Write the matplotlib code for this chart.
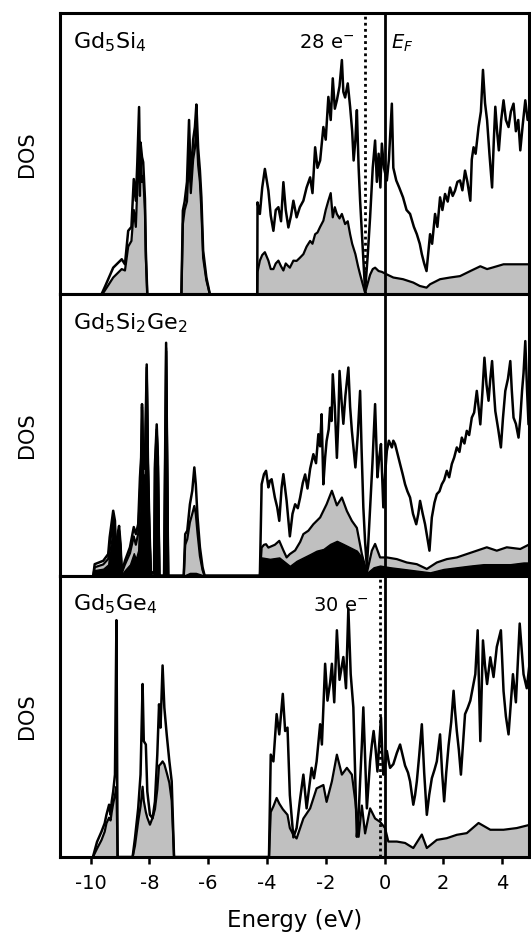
#!/usr/bin/env python3
"""
Stacked DOS panels for Gd5Si4, Gd5Si2Ge2 and Gd5Ge4
Values are (energy in eV, DOS in % of panel height), read off the figure
"""

import numpy as np
import matplotlib
matplotlib.use('Agg')
import matplotlib.pyplot as plt

# ---------------- Gd5Si4 ----------------
si4_total = [
    (-9.63, 0), (-9.50, 3), (-9.23, 9.5), (-8.94, 12.5), (-8.83, 10.7), (-8.72, 22.6), (-8.61, 24),
    (-8.53, 41), (-8.46, 33.3), (-8.41, 46.8), (-8.35, 66.6), (-8.32, 44), (-8.30, 54), (-8.25, 48.8),
    (-8.21, 47), (-8.15, 34), (-8.12, 15.5), (-8.07, 0),
    (-6.91, 0), (-6.86, 29.8), (-6.80, 33), (-6.72, 40), (-6.65, 62), (-6.59, 40), (-6.51, 55),
    (-6.45, 59.5), (-6.40, 67.5), (-6.34, 52), (-6.28, 44), (-6.23, 34.5), (-6.17, 15.5), (-6.06, 6),
    (-5.94, 0),
    (-4.33, 0), (-4.32, 32.7), (-4.24, 28.6), (-4.16, 38), (-4.07, 44.6), (-3.95, 36.9), (-3.87, 28),
    (-3.78, 22.6), (-3.70, 30), (-3.61, 31), (-3.52, 26), (-3.44, 39.9), (-3.36, 30), (-3.27, 23.8),
    (-3.18, 28), (-3.10, 33.3), (-2.99, 27.4), (-2.88, 31), (-2.76, 33.3), (-2.65, 38), (-2.53, 41.6),
    (-2.45, 36), (-2.36, 52.3), (-2.28, 45), (-2.19, 47.6), (-2.08, 59.5), (-2.00, 55), (-1.91, 70.2),
    (-1.83, 62), (-1.76, 76.8), (-1.69, 66), (-1.62, 69), (-1.53, 74), (-1.45, 83.3), (-1.40, 72),
    (-1.34, 70), (-1.25, 75), (-1.17, 66.7), (-1.10, 58), (-1.05, 47.6), (-0.99, 55), (-0.94, 65.5),
    (-0.88, 45), (-0.83, 33.3), (-0.75, 18), (-0.66, 1.1), (-0.57, 14), (-0.49, 27.4), (-0.40, 45),
    (-0.32, 54.7), (-0.26, 40), (-0.20, 50), (-0.14, 38), (-0.09, 53.6), (-0.02, 45), (0.08, 40.5),
    (0.15, 48), (0.22, 62), (0.25, 67.8), (0.30, 45), (0.40, 40.5), (0.50, 38), (0.63, 34.5),
    (0.75, 30), (0.87, 28.6), (1.00, 24), (1.10, 21.4), (1.20, 18), (1.27, 14.3), (1.35, 11),
    (1.43, 8.3), (1.50, 16), (1.55, 21.4), (1.62, 18), (1.72, 28.6), (1.80, 24), (1.89, 34.5),
    (1.97, 30), (2.06, 35.7), (2.15, 33), (2.23, 38), (2.32, 35), (2.40, 36.9), (2.48, 40),
    (2.57, 40.5), (2.65, 37), (2.74, 44), (2.82, 40), (2.92, 33.3), (2.97, 48), (3.03, 52.3),
    (3.10, 50), (3.20, 59.5), (3.28, 65), (3.35, 79.8), (3.42, 68), (3.49, 61.9), (3.57, 50),
    (3.66, 38), (3.72, 55), (3.77, 66.7), (3.83, 58), (3.89, 51.2), (3.97, 62), (4.05, 69),
    (4.13, 62), (4.22, 59.5), (4.30, 65), (4.39, 67.8), (4.47, 58), (4.55, 62), (4.62, 51.2),
    (4.70, 60), (4.79, 69), (4.87, 62), (4.96, 66.7), (5.05, 64),
]
si4_partial = [
    (-9.60, 0), (-9.23, 6), (-8.94, 9), (-8.83, 8.5), (-8.72, 17), (-8.61, 19), (-8.53, 30),
    (-8.46, 24), (-8.41, 38), (-8.35, 55), (-8.32, 35), (-8.30, 48), (-8.25, 40), (-8.21, 42),
    (-8.15, 30), (-8.12, 13), (-8.07, 0),
    (-6.91, 0), (-6.86, 25), (-6.80, 30), (-6.72, 33), (-6.65, 50), (-6.59, 36), (-6.51, 48),
    (-6.45, 52), (-6.40, 60), (-6.34, 46), (-6.28, 40), (-6.23, 30), (-6.17, 13), (-6.06, 5),
    (-5.94, 0),
    (-4.33, 0), (-4.32, 8), (-4.24, 12), (-4.16, 14), (-4.07, 15), (-3.95, 12), (-3.87, 9),
    (-3.78, 9), (-3.70, 11), (-3.61, 12), (-3.52, 10), (-3.44, 8.5), (-3.36, 11), (-3.27, 10),
    (-3.22, 9.5), (-3.10, 12), (-2.99, 11.9), (-2.88, 13), (-2.76, 14.3), (-2.65, 17), (-2.53, 19),
    (-2.45, 18), (-2.36, 21.4), (-2.28, 22), (-2.19, 24), (-2.08, 26.2), (-2.00, 30), (-1.91, 33.3),
    (-1.83, 36), (-1.76, 27.4), (-1.69, 31), (-1.62, 28.6), (-1.53, 27), (-1.45, 28.6), (-1.34, 25),
    (-1.25, 26), (-1.17, 21.4), (-1.10, 18), (-0.99, 14.3), (-0.90, 10), (-0.83, 7.1), (-0.75, 4),
    (-0.66, 0.6), (-0.57, 4), (-0.49, 7), (-0.40, 9), (-0.32, 9.5), (-0.20, 8.3), (-0.09, 8),
    (0.08, 7.1), (0.30, 6), (0.63, 5.4), (0.98, 4.2), (1.20, 3), (1.43, 2.4), (1.55, 3.6),
    (1.72, 4.5), (1.89, 5.4), (2.23, 6), (2.57, 6.5), (2.92, 8.3), (3.26, 10), (3.49, 9),
    (3.66, 9.5), (4.05, 10.7), (4.50, 10.7), (4.96, 10.7), (5.05, 10.7),
]

# ---------------- Gd5Si2Ge2 ----------------
sige_total = [
    (-9.91, 0), (-9.86, 4.1), (-9.57, 5.3), (-9.40, 7.7), (-9.35, 13.7), (-9.29, 18.3), (-9.23, 23.1),
    (-9.17, 19.5), (-9.12, 1.8), (-9.06, 16), (-9.03, 17.7), (-8.98, 11.2), (-8.94, 1.2), (-8.83, 5.3),
    (-8.66, 10.1), (-8.53, 17.3), (-8.46, 14.8), (-8.38, 18.3), (-8.32, 34.9), (-8.28, 42), (-8.25, 61),
    (-8.21, 39.6), (-8.15, 40), (-8.09, 75.1), (-8.05, 42), (-8.00, 18.3), (-7.95, 1.2), (-7.84, 1.2),
    (-7.81, 39.6), (-7.75, 53.8), (-7.71, 42), (-7.66, 0), (-7.50, 0), (-7.43, 82.8), (-7.36, 0),
    (-6.83, 0), (-6.78, 14.8), (-6.71, 16), (-6.62, 25.4), (-6.54, 30.2), (-6.47, 38.5), (-6.42, 32.5),
    (-6.36, 20.7), (-6.28, 10.1), (-6.19, 3), (-6.12, 0),
    (-4.24, 0), (-4.18, 32.5), (-4.10, 36.1), (-4.03, 37.3), (-3.95, 31.4), (-3.90, 33.7),
    (-3.84, 34.3), (-3.73, 27.8), (-3.65, 24.3), (-3.58, 19.5), (-3.50, 31.4), (-3.44, 36.1),
    (-3.33, 26.6), (-3.22, 14), (-3.13, 22), (-3.04, 25.4), (-2.95, 24), (-2.87, 27.8), (-2.78, 33),
    (-2.70, 36), (-2.62, 31), (-2.53, 38), (-2.42, 43.2), (-2.33, 40), (-2.25, 50.3), (-2.19, 46),
    (-2.14, 57.4), (-2.08, 32.5), (-2.02, 42), (-1.97, 47.9), (-1.90, 52), (-1.85, 59.7), (-1.80, 55),
    (-1.76, 71.6), (-1.69, 60), (-1.62, 41.9), (-1.57, 55), (-1.53, 72.8), (-1.46, 62), (-1.40, 54),
    (-1.33, 64), (-1.23, 74), (-1.17, 60), (-1.11, 51.5), (-1.05, 45), (-0.99, 38.5), (-0.91, 50),
    (-0.83, 65.7), (-0.78, 45), (-0.72, 24.3), (-0.66, 12), (-0.60, 3), (-0.55, 12), (-0.49, 24.3),
    (-0.41, 40), (-0.32, 61), (-0.28, 48), (-0.24, 35), (-0.18, 42), (-0.12, 46.8), (-0.08, 35),
    (-0.04, 24.3), (0.02, 36), (0.08, 44.4), (0.15, 48), (0.25, 45.6), (0.30, 48), (0.36, 46.8),
    (0.45, 43), (0.53, 39.7), (0.62, 36), (0.70, 32.5), (0.78, 30), (0.87, 27.8), (0.97, 22),
    (1.08, 18.3), (1.15, 22), (1.21, 26.6), (1.30, 22), (1.38, 18.3), (1.45, 14), (1.53, 8.9),
    (1.57, 15), (1.61, 20.7), (1.70, 26), (1.78, 29), (1.87, 30), (1.95, 32.5), (2.03, 34),
    (2.12, 37.3), (2.20, 35), (2.29, 39.7), (2.37, 42), (2.46, 45.6), (2.55, 44), (2.63, 49.1),
    (2.72, 47), (2.80, 51.5), (2.88, 50), (2.97, 56.2), (3.05, 58), (3.14, 65.7), (3.20, 60),
    (3.26, 53.8), (3.33, 65), (3.40, 77.5), (3.47, 68), (3.54, 62.2), (3.60, 70), (3.66, 76.3),
    (3.72, 66), (3.77, 58.5), (3.87, 52), (3.96, 45.6), (4.03, 56), (4.11, 65.7), (4.20, 70),
    (4.28, 76.3), (4.33, 66), (4.39, 56.2), (4.47, 54), (4.56, 49.1), (4.62, 56), (4.68, 65.7),
    (4.73, 72), (4.79, 83.4), (4.85, 66), (4.90, 53.8), (4.99, 60), (5.05, 58),
]
sige_partial = [
    (-9.91, 0), (-9.86, 3), (-9.57, 4), (-9.40, 6), (-9.35, 11), (-9.29, 15), (-9.23, 21), (-9.17, 17),
    (-9.12, 1.5), (-9.06, 14), (-9.03, 16), (-8.98, 10), (-8.94, 1), (-8.83, 4), (-8.66, 8), (-8.53, 14),
    (-8.46, 11), (-8.38, 15), (-8.32, 30), (-8.28, 40), (-8.25, 60), (-8.21, 38), (-8.15, 38),
    (-8.09, 74), (-8.05, 40), (-8.00, 16), (-7.95, 1), (-7.84, 1), (-7.81, 38), (-7.75, 52),
    (-7.71, 40), (-7.66, 0), (-7.50, 0), (-7.43, 81), (-7.36, 0),
    (-6.83, 0), (-6.78, 11), (-6.71, 13), (-6.62, 19), (-6.54, 22), (-6.47, 24.8), (-6.42, 22),
    (-6.36, 15), (-6.28, 7), (-6.19, 2), (-6.12, 0),
    (-4.24, 0), (-4.18, 10), (-4.10, 11), (-4.03, 11.2), (-3.95, 10), (-3.84, 10.5), (-3.73, 11),
    (-3.58, 12.4), (-3.44, 9), (-3.33, 6.5), (-3.22, 7.7), (-3.04, 9), (-2.87, 12), (-2.76, 14.8),
    (-2.59, 16), (-2.42, 18.3), (-2.19, 20.7), (-1.97, 25.4), (-1.79, 30.2), (-1.62, 25),
    (-1.45, 27.8), (-1.28, 23), (-1.11, 19.5), (-0.94, 17), (-0.77, 7.7), (-0.60, 1), (-0.43, 8.9),
    (-0.32, 11.3), (-0.15, 6.5), (0.08, 6.5), (0.42, 5.9), (0.76, 4.7), (1.10, 4.1), (1.44, 2.4),
    (1.78, 4.7), (2.12, 5.9), (2.46, 6.5), (2.80, 7.7), (3.14, 8.9), (3.48, 10.1), (3.82, 8.9),
    (4.16, 10.1), (4.62, 9.5), (4.96, 11.3), (5.05, 11.3),
]
sige_black = [
    (-9.91, 0), (-9.86, 2), (-9.57, 2.5), (-9.40, 4), (-9.35, 9), (-9.29, 13), (-9.23, 20), (-9.17, 15),
    (-9.12, 1), (-9.06, 12), (-9.03, 15), (-8.98, 9), (-8.94, 0.5), (-8.83, 2), (-8.66, 4), (-8.53, 8),
    (-8.46, 6), (-8.38, 9), (-8.32, 27), (-8.28, 38), (-8.25, 59), (-8.21, 36), (-8.15, 36),
    (-8.09, 73), (-8.05, 38), (-8.00, 14), (-7.95, 0.5), (-7.84, 0.5), (-7.81, 37), (-7.75, 51),
    (-7.71, 39), (-7.66, 0), (-7.50, 0), (-7.43, 80), (-7.36, 0),
    (-6.83, 0), (-6.62, 1), (-6.42, 1), (-6.12, 0),
    (-4.24, 0), (-4.18, 6.5), (-3.90, 6), (-3.58, 6.5), (-3.22, 3.5), (-2.99, 5.3), (-2.76, 6.5),
    (-2.53, 7.7), (-2.31, 8.9), (-2.08, 9.5), (-1.85, 11.3), (-1.62, 12.4), (-1.40, 11.3),
    (-1.17, 10.1), (-0.94, 8.9), (-0.77, 6.5), (-0.60, 1), (-0.37, 3), (-0.15, 3.6), (0.19, 3),
    (0.65, 2.4), (1.10, 1.8), (1.55, 1.2), (2.01, 2.4), (2.46, 3), (2.92, 3.6), (3.37, 4.1),
    (3.82, 4.1), (4.28, 4.1), (4.73, 4.7), (4.96, 4.7), (5.05, 4.7),
]

# ---------------- Gd5Ge4 ----------------
ge4_total = [
    (-9.92, 0), (-9.78, 5.4), (-9.63, 9), (-9.52, 12), (-9.46, 15), (-9.37, 18.6), (-9.32, 15),
    (-9.28, 19.7), (-9.23, 23.3), (-9.17, 29.3), (-9.12, 84.2), (-9.08, 0),
    (-8.57, 0), (-8.49, 6.6), (-8.38, 17.3), (-8.30, 29.3), (-8.23, 61.5), (-8.19, 41.2), (-8.12, 40),
    (-8.07, 23.3), (-7.98, 15), (-7.89, 13.8), (-7.81, 19.7), (-7.73, 36.4), (-7.67, 54.3),
    (-7.62, 46), (-7.55, 68.1), (-7.49, 53.1), (-7.41, 43.6), (-7.32, 34.1), (-7.24, 26.9), (-7.16, 0),
    (-3.93, 0), (-3.87, 36.4), (-3.78, 34), (-3.67, 50.8), (-3.58, 43.6), (-3.46, 58), (-3.38, 44.8),
    (-3.30, 46), (-3.22, 22), (-3.10, 7), (-2.99, 10.3), (-2.88, 20), (-2.76, 29.3), (-2.65, 17.3),
    (-2.56, 25), (-2.48, 31.7), (-2.40, 28), (-2.31, 34), (-2.19, 47.2), (-2.13, 40), (-2.02, 68.7),
    (-1.94, 55.6), (-1.85, 62), (-1.79, 68.7), (-1.71, 55), (-1.62, 80.6), (-1.53, 63), (-1.40, 71.1),
    (-1.31, 60), (-1.23, 88.4), (-1.15, 65), (-1.06, 53.2), (-1.00, 30), (-0.94, 7.2), (-0.88, 15),
    (-0.83, 26.9), (-0.77, 40), (-0.72, 53.2), (-0.66, 35), (-0.60, 17.3), (-0.55, 25), (-0.49, 34),
    (-0.43, 40), (-0.37, 44.8), (-0.30, 38), (-0.24, 30.4), (-0.18, 40), (-0.12, 49.6), (-0.08, 38),
    (-0.04, 29.3), (0.02, 33), (0.08, 37.7), (0.14, 34), (0.19, 31.7), (0.30, 33), (0.42, 37),
    (0.53, 40), (0.62, 36), (0.70, 32.5), (0.80, 30), (0.87, 26.9), (0.98, 18.6), (1.04, 22),
    (1.10, 26.9), (1.18, 36), (1.27, 47.2), (1.35, 30), (1.44, 15), (1.52, 22), (1.61, 28),
    (1.70, 31), (1.78, 34), (1.89, 43.6), (1.96, 30), (2.03, 19.8), (2.10, 30), (2.18, 39.6),
    (2.27, 48), (2.35, 59.1), (2.40, 52), (2.46, 44.8), (2.53, 38), (2.60, 29.3), (2.67, 40),
    (2.74, 50.8), (2.83, 53), (2.92, 55.6), (3.00, 60), (3.09, 65), (3.17, 80.6), (3.26, 41.2),
    (3.35, 77), (3.42, 68), (3.49, 61.5), (3.60, 71), (3.71, 64), (3.82, 74.7), (3.96, 80.6),
    (4.05, 59), (4.13, 50), (4.22, 43.6), (4.30, 55), (4.37, 65), (4.47, 55), (4.60, 83),
    (4.73, 65), (4.84, 60), (4.96, 71), (5.05, 68),
]
ge4_partial = [
    (-9.92, 0), (-9.78, 3), (-9.63, 6), (-9.52, 9), (-9.46, 12), (-9.37, 14), (-9.32, 13), (-9.28, 16),
    (-9.23, 19), (-9.17, 22), (-9.12, 25), (-9.08, 0),
    (-8.57, 0), (-8.49, 4), (-8.38, 12.7), (-8.30, 18), (-8.23, 25), (-8.19, 20), (-8.12, 16),
    (-8.07, 14), (-7.98, 11.5), (-7.89, 14), (-7.81, 17), (-7.73, 24), (-7.67, 32.5), (-7.62, 33),
    (-7.55, 34), (-7.49, 33), (-7.41, 30), (-7.32, 26.4), (-7.24, 20), (-7.16, 0),
    (-3.93, 0), (-3.87, 16), (-3.78, 18), (-3.67, 21), (-3.58, 19), (-3.46, 17), (-3.38, 16),
    (-3.30, 15), (-3.22, 10.3), (-3.10, 7.9), (-2.99, 6.6), (-2.76, 13.7), (-2.53, 17.3),
    (-2.31, 24.4), (-2.08, 25.6), (-1.97, 19.6), (-1.79, 26.9), (-1.62, 36.4), (-1.45, 29.3),
    (-1.28, 31.7), (-1.11, 29.3), (-0.99, 19.6), (-0.88, 7.2), (-0.77, 18.3), (-0.66, 8.4),
    (-0.49, 17.3), (-0.32, 13.7), (-0.15, 12.5), (0.02, 10.3), (0.13, 5.5), (0.42, 5.5), (0.70, 5),
    (0.98, 3.2), (1.27, 8), (1.44, 3.2), (1.78, 6.1), (2.12, 6.7), (2.46, 7.9), (2.80, 8.5),
    (3.20, 12.1), (3.60, 9.7), (4.05, 9.7), (4.50, 10.3), (4.96, 11.5), (5.05, 11.5),
]

panel_titles = [r'Gd$_5$Si$_4$', r'Gd$_5$Si$_2$Ge$_2$', r'Gd$_5$Ge$_4$']
electron_lines = [(-0.66, r'28 e$^{-}$'), None, (-0.17, r'30 e$^{-}$')]
xticks = [-10, -8, -6, -4, -2, 0, 2, 4]

GREY = '#c0c0c0'


def split(pairs):
    arr = np.array(pairs, dtype=float)
    return arr[:, 0], arr[:, 1]


def draw_panel(ax, total, partial, black=None, title='', eline=None):
    """One DOS panel: grey partial DOS, optional black partial, total on top"""
    e, v = split(partial)
    ax.fill_between(e, 0, v, color=GREY, lw=0, zorder=1)
    ax.plot(e, v, color='k', lw=1.6, zorder=2)

    if black is not None:
        e, v = split(black)
        ax.fill_between(e, 0, v, color='k', lw=1.0, zorder=3)

    e, v = split(total)
    ax.plot(e, v, color='k', lw=1.8, zorder=4)

    # Fermi level
    ax.axvline(0, color='k', lw=2.0, zorder=5)

    if eline is not None:
        xpos, label = eline
        ax.axvline(xpos, color='k', lw=2.0, ls=(0, (1, 1.2)), zorder=5)
        ax.text(xpos - 0.38, 87.5, label, ha='right', va='baseline', fontsize=14)

    ax.text(0.028, 0.875, title, transform=ax.transAxes, ha='left', va='baseline',
            fontsize=16)

    ax.set_xlim(-11.04, 4.93)
    ax.set_ylim(0, 100)
    ax.set_yticks([])
    ax.set_ylabel('DOS', fontsize=15)
    ax.yaxis.set_label_coords(-0.05, 0.5)
    for sp in ax.spines.values():
        sp.set_linewidth(2.2)
        sp.set_zorder(10)


def main():
    plt.rcParams['font.family'] = ['DejaVu Sans']
    plt.rcParams['mathtext.fontset'] = 'dejavusans'
    plt.rcParams['axes.unicode_minus'] = False

    fig, axes = plt.subplots(3, 1, figsize=(5.31, 9.34), dpi=100, sharex=True)
    fig.subplots_adjust(left=0.113, right=0.997, top=0.986, bottom=0.0824, hspace=0)

    draw_panel(axes[0], si4_total, si4_partial, title=panel_titles[0], eline=electron_lines[0])
    draw_panel(axes[1], sige_total, sige_partial, black=sige_black, title=panel_titles[1])
    draw_panel(axes[2], ge4_total, ge4_partial, title=panel_titles[2], eline=electron_lines[2])

    axes[0].text(0.22, 87.5, r'$E_F$', ha='left', va='baseline', fontsize=14)

    for ax in axes[:2]:
        ax.tick_params(axis='x', bottom=False, labelbottom=False)

    ax = axes[2]
    ax.set_xticks(xticks)
    ax.tick_params(axis='x', direction='out', length=5, width=1.8, pad=7, labelsize=14)
    ax.set_xlabel('Energy (eV)', fontsize=16.5)
    ax.xaxis.set_label_coords(0.5, -0.185)

    plt.savefig('out.png', dpi=100)
    plt.close()


if __name__ == "__main__":
    main()
